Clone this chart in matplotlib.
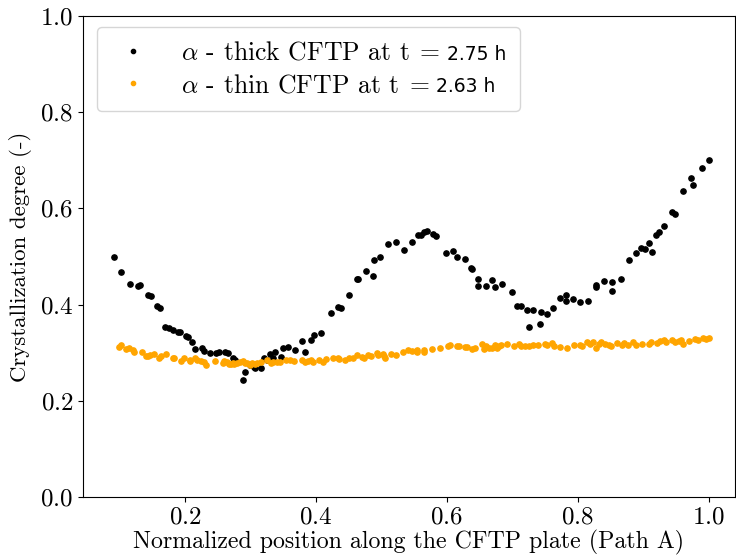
import matplotlib
matplotlib.use("Agg")
import matplotlib.pyplot as plt
from matplotlib.font_manager import FontProperties
from matplotlib.offsetbox import TextArea, HPacker

plt.rcParams.update({
    "font.family": "cmr10",
    "mathtext.fontset": "cm",
    "axes.formatter.use_mathtext": True,
    "axes.unicode_minus": False,
})

# ---- data ----
thick_x = [0.091, 0.103, 0.116, 0.129, 0.132, 0.144, 0.148, 0.157, 0.162, 0.170,
           0.175, 0.182, 0.190, 0.192, 0.201, 0.204, 0.211, 0.215, 0.226, 0.229,
           0.239, 0.248, 0.252, 0.261, 0.265, 0.274, 0.277, 0.288, 0.291, 0.299,
           0.305, 0.307, 0.316, 0.320, 0.326, 0.330, 0.335, 0.338, 0.346, 0.349,
           0.357, 0.368, 0.379, 0.383, 0.393, 0.397, 0.407, 0.423, 0.434, 0.439,
           0.450, 0.462, 0.464, 0.476, 0.487, 0.488, 0.498, 0.510, 0.522, 0.534,
           0.547, 0.556, 0.560, 0.565, 0.570, 0.579, 0.583, 0.598, 0.609, 0.616,
           0.627, 0.637, 0.638, 0.647, 0.647, 0.660, 0.669, 0.673, 0.684, 0.700,
           0.707, 0.713, 0.722, 0.726, 0.732, 0.742, 0.743, 0.753, 0.762, 0.772,
           0.782, 0.782, 0.792, 0.804, 0.816, 0.827, 0.828, 0.840, 0.852, 0.852,
           0.866, 0.878, 0.889, 0.897, 0.902, 0.909, 0.913, 0.920, 0.924, 0.932,
           0.944, 0.948, 0.960, 0.973, 0.976, 0.989, 1.000]
thick_y = [0.499, 0.468, 0.442, 0.439, 0.441, 0.419, 0.417, 0.398, 0.392, 0.354,
           0.352, 0.348, 0.344, 0.344, 0.334, 0.333, 0.323, 0.307, 0.310, 0.304,
           0.300, 0.299, 0.301, 0.301, 0.299, 0.290, 0.285, 0.244, 0.260, 0.274,
           0.271, 0.269, 0.269, 0.290, 0.285, 0.298, 0.288, 0.301, 0.292, 0.310,
           0.311, 0.306, 0.325, 0.302, 0.327, 0.337, 0.340, 0.382, 0.395, 0.393,
           0.419, 0.454, 0.454, 0.469, 0.460, 0.492, 0.499, 0.526, 0.531, 0.513,
           0.530, 0.544, 0.545, 0.550, 0.552, 0.546, 0.542, 0.507, 0.511, 0.500,
           0.495, 0.476, 0.474, 0.454, 0.439, 0.438, 0.452, 0.437, 0.442, 0.426,
           0.397, 0.397, 0.388, 0.354, 0.388, 0.360, 0.385, 0.380, 0.393, 0.414,
           0.419, 0.408, 0.411, 0.406, 0.408, 0.441, 0.436, 0.450, 0.448, 0.429,
           0.453, 0.493, 0.508, 0.518, 0.515, 0.529, 0.510, 0.545, 0.551, 0.564,
           0.593, 0.589, 0.637, 0.664, 0.649, 0.685, 0.701]

thin_x = [0.099, 0.102, 0.110, 0.114, 0.121, 0.122, 0.134, 0.140, 0.144, 0.147,
          0.152, 0.160, 0.163, 0.171, 0.182, 0.184, 0.194, 0.199, 0.207, 0.208,
          0.215, 0.219, 0.224, 0.229, 0.232, 0.246, 0.258, 0.260, 0.264, 0.267,
          0.270, 0.273, 0.275, 0.280, 0.284, 0.289, 0.292, 0.295, 0.299, 0.303,
          0.307, 0.310, 0.316, 0.326, 0.331, 0.334, 0.340, 0.345, 0.354, 0.360,
          0.366, 0.378, 0.383, 0.388, 0.392, 0.396, 0.405, 0.411, 0.415, 0.426,
          0.433, 0.436, 0.444, 0.451, 0.456, 0.463, 0.470, 0.474, 0.480, 0.484,
          0.494, 0.495, 0.502, 0.504, 0.506, 0.514, 0.523, 0.533, 0.541, 0.546,
          0.554, 0.555, 0.565, 0.565, 0.577, 0.590, 0.601, 0.605, 0.615, 0.619,
          0.628, 0.631, 0.639, 0.643, 0.653, 0.657, 0.660, 0.665, 0.669, 0.673,
          0.677, 0.680, 0.682, 0.692, 0.703, 0.710, 0.713, 0.719, 0.725, 0.731,
          0.739, 0.750, 0.753, 0.761, 0.763, 0.772, 0.783, 0.794, 0.804, 0.807,
          0.814, 0.818, 0.823, 0.827, 0.833, 0.836, 0.842, 0.847, 0.850, 0.860,
          0.867, 0.871, 0.876, 0.884, 0.889, 0.898, 0.908, 0.911, 0.921, 0.925,
          0.931, 0.935, 0.944, 0.949, 0.954, 0.958, 0.961, 0.970, 0.979, 0.983,
          0.991, 0.995, 1.000]
thin_y = [0.312, 0.316, 0.308, 0.310, 0.305, 0.302, 0.302, 0.294, 0.293, 0.295,
          0.297, 0.290, 0.293, 0.297, 0.288, 0.288, 0.283, 0.289, 0.285, 0.283,
          0.289, 0.285, 0.283, 0.280, 0.274, 0.282, 0.279, 0.283, 0.281, 0.277,
          0.276, 0.279, 0.276, 0.279, 0.280, 0.282, 0.279, 0.279, 0.275, 0.279,
          0.276, 0.279, 0.281, 0.285, 0.279, 0.280, 0.280, 0.280, 0.285, 0.284,
          0.283, 0.284, 0.281, 0.283, 0.284, 0.281, 0.285, 0.281, 0.287, 0.290,
          0.290, 0.287, 0.285, 0.290, 0.288, 0.296, 0.291, 0.290, 0.295, 0.293,
          0.299, 0.295, 0.298, 0.293, 0.290, 0.297, 0.295, 0.302, 0.305, 0.303,
          0.306, 0.301, 0.306, 0.301, 0.307, 0.310, 0.313, 0.315, 0.313, 0.313,
          0.312, 0.311, 0.308, 0.310, 0.319, 0.308, 0.313, 0.310, 0.309, 0.315,
          0.309, 0.313, 0.316, 0.318, 0.313, 0.319, 0.313, 0.313, 0.313, 0.316,
          0.315, 0.319, 0.316, 0.321, 0.313, 0.312, 0.310, 0.317, 0.317, 0.313,
          0.323, 0.319, 0.322, 0.310, 0.319, 0.322, 0.318, 0.315, 0.313, 0.320,
          0.316, 0.320, 0.316, 0.322, 0.316, 0.319, 0.319, 0.322, 0.320, 0.324,
          0.326, 0.322, 0.327, 0.322, 0.324, 0.327, 0.319, 0.324, 0.329, 0.327,
          0.331, 0.329, 0.331]

label_prefixes = [r"$\alpha$ - thick CFTP at t$\;=$", r"$\alpha$ - thin CFTP at t$\;=$"]
label_suffixes = ["2.75 h", "2.63 h"]
xlabel = "Normalized position along the CFTP plate (Path A)"
ylabel = "Crystallization degree (-)"

W, H = 736, 557
fig = plt.figure(figsize=(W / 100, H / 100), dpi=100)
ax = fig.add_axes([83 / W, (H - 497) / H, (735 - 83) / W, (497 - 16) / H])

ax.plot(thick_x, thick_y, linestyle="none", marker="o", ms=3.8, color="black",
        label=label_prefixes[0])
ax.plot(thin_x, thin_y, linestyle="none", marker="o", ms=3.8, color="orange",
        label=label_prefixes[1])

ax.set_xlim(0.0443, 1.04)
ax.set_ylim(0.0, 1.0)
ax.set_xticks([0.2, 0.4, 0.6, 0.8, 1.0])
ax.set_yticks([0.0, 0.2, 0.4, 0.6, 0.8, 1.0])
ax.tick_params(labelsize=18)
ax.set_xlabel(xlabel, fontsize=17.2, labelpad=1)
ax.set_ylabel(ylabel, fontsize=16.5, labelpad=6)

leg = ax.legend(loc="upper left", bbox_to_anchor=((97 - 83) / 652, (497 - 27) / 481),
                borderaxespad=0, fontsize=18.5, numpoints=1, markerscale=0.8,
                borderpad=0.55, handlelength=1.7, handletextpad=1.0, labelspacing=0.33)

# append the sans-serif time value to each legend entry
suffix_prop = FontProperties(family="DejaVu Sans", size=13.5)
rows = [row for col in leg._legend_handle_box.get_children() for row in col.get_children()]
for row, suffix in zip(rows, label_suffixes):
    handle_box, text_box = row._children
    ta = TextArea(suffix, textprops=dict(verticalalignment="baseline",
                                         horizontalalignment="left",
                                         fontproperties=suffix_prop))
    row._children[1] = HPacker(pad=0, sep=5, children=[text_box, ta], align="baseline")
leg._legend_box.set_figure(fig)
for c in leg._legend_box.get_children():
    c.set_figure(fig)

fig.savefig("out.png", dpi=100)
